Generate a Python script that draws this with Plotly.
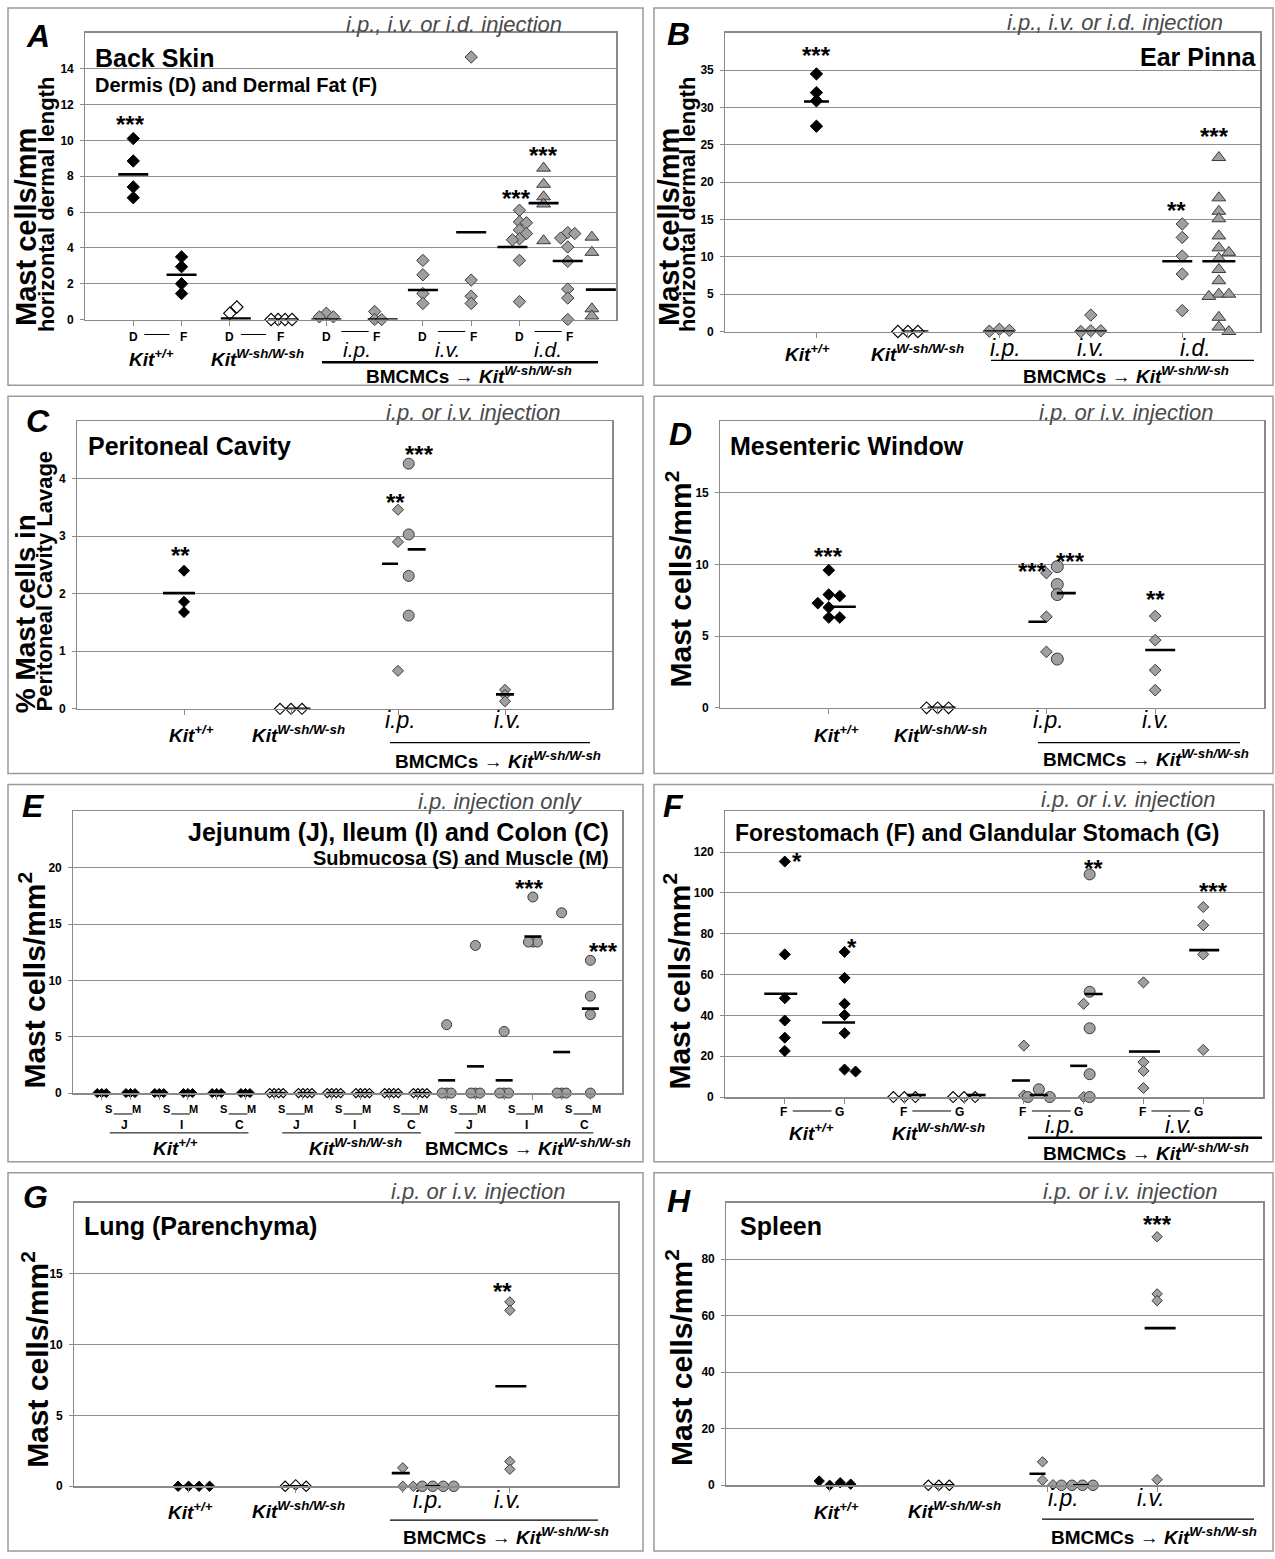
import plotly.graph_objects as go

W, H = 1275, 1559
FONT = "Liberation Sans, Arial, sans-serif"

# ======================= DATA =======================
# A: Back skin - dermis (D) / dermal fat (F); mast cells / mm horizontal dermal length
A_wt_D = [10.1, 8.85, 7.4, 6.8]
A_wt_F = [3.5, 2.95, 2.0, 1.45]
A_ko_D = [0.35, 0.7]
A_ko_F = [0.0, 0.0, 0.0, 0.0]
A_ip_D = [0.35, 0.15, 0.15]
A_ip_F = [0.45, 0.0, 0.0]
A_iv_D = [3.3, 2.5, 1.45, 0.9]
A_iv_F = [14.65, 2.2, 1.3, 0.9]
A_id_D = [6.1, 5.45, 5.4, 5.0, 4.8, 4.5, 4.45, 3.3, 1.0]
A_id_D_tri = [8.45, 7.55, 6.85, 6.45, 4.4]
A_id_F = [4.85, 4.8, 4.55, 4.05, 3.25, 1.7, 1.2, 0.0]
A_id_F_tri = [4.6, 3.75, 0.6, 0.2]
A_means = [8.1, 2.5, 0.05, 0.0, 0.0, 0.0, 1.65, 4.87, 4.05, 6.5, 3.27, 1.67]
A_yticks = [0, 2, 4, 6, 8, 10, 12, 14]

# B: Ear pinna
B_wt = [34.5, 32.0, 30.9, 27.5]
B_ko = [0.0, 0.0, 0.0]
B_ip = [0.3, 0.15, 0.05]
B_iv = [2.2, 0.1, 0.1, 0.0]
B_id = [14.4, 12.6, 10.1, 7.7, 2.8]
B_id_tri = [23.3, 17.9, 16.1, 15.1, 12.8, 11.2, 10.6, 9.8, 8.3, 6.8, 5.0, 5.0, 4.7, 1.9, 0.6, 0.0]
B_means = [30.8, 0.0, 0.0, 0.0, 9.4, 9.4]
B_yticks = [0, 5, 10, 15, 20, 25, 30, 35]

# C: Peritoneal cavity (% mast cells in lavage)
C_wt = [2.4, 1.86, 1.68]
C_ko = [0.0, 0.0, 0.0]
C_ip = [3.46, 2.9, 0.66]
C_ip_circ = [4.26, 3.03, 2.31, 1.62]
C_iv = [0.33, 0.24, 0.13]
C_means = [2.01, 0.0, 2.52, 2.77, 0.25]
C_yticks = [0, 1, 2, 3, 4]

# D: Mesenteric window
D_wt = [9.6, 7.9, 7.8, 7.3, 7.0, 6.3, 6.3]
D_ko = [0.0, 0.0, 0.0]
D_ip = [9.4, 6.35, 3.9]
D_ip_circ = [9.85, 8.6, 7.9, 3.4]
D_iv = [6.4, 4.72, 2.63, 1.23]
D_means = [7.05, 0.0, 6.0, 8.0, 4.03]
D_yticks = [0, 5, 10, 15]

# E: Jejunum / Ileum / Colon; columns J-S, J-M, I-S, I-M, C-S, C-M
E_wt = [[0.0, 0.0, 0.0], [0.0, 0.0, 0.0], [0.0, 0.0, 0.0],
        [0.0, 0.0, 0.0], [0.0, 0.0, 0.0], [0.0, 0.0, 0.0]]
E_ko = [[0.0, 0.0, 0.0, 0.0], [0.0, 0.0, 0.0, 0.0], [0.0, 0.0, 0.0, 0.0],
        [0.0, 0.0, 0.0, 0.0], [0.0, 0.0, 0.0, 0.0], [0.0, 0.0, 0.0, 0.0]]
E_bm = [[6.07, 0.0, 0.0, 0.0], [13.1, 0.0, 0.0, 0.0], [5.47, 0.0, 0.0, 0.0],
        [17.4, 13.4, 13.4, 13.4], [16.0, 0.0, 0.0, 0.0], [11.78, 8.6, 6.96, 0.0]]
E_ko_means = [0.0, 0.0, 0.0, 0.0, 0.0, 0.0]
E_bm_means = [1.13, 2.37, 1.13, 13.9, 3.64, 7.49]
E_yticks = [0, 5, 10, 15, 20]

# F: Forestomach (F) and glandular stomach (G)
F_wt_F = [115.4, 69.9, 48.4, 37.5, 29.1, 22.6]
F_wt_G = [71.1, 58.4, 45.7, 40.2, 31.3, 13.5, 12.5]
F_ko_F = [0.0, 0.0, 0.0]
F_ko_G = [0.0, 0.0, 0.0]
F_ip_F = [25.2, 0.8]
F_ip_F_circ = [3.8, 0.0, 0.0]
F_ip_G = [45.7, 0.0]
F_ip_G_circ = [109.1, 51.6, 33.7, 11.2, 0.0]
F_iv_F = [56.2, 17.1, 12.8, 4.4]
F_iv_G = [93.1, 84.2, 69.9, 23.1]
F_means = [50.6, 36.5, 1.0, 1.0, 8.1, 1.0, 15.3, 50.5, 22.3, 72.0]
F_yticks = [0, 20, 40, 60, 80, 100, 120]

# G: Lung (parenchyma)
G_wt = [0.0, 0.0, 0.0, 0.0]
G_ko = [0.1, 0.0, 0.0]
G_ip = [1.3, 0.0, 0.0]
G_ip_circ = [0.0, 0.0, 0.0, 0.0]
G_iv = [13.0, 12.4, 1.75, 1.2]
G_means = [0.0, 0.0, 0.93, 0.0, 7.05]
G_yticks = [0, 5, 10, 15]

# H: Spleen
H_wt = [0.0, 0.9, 1.5, 0.4]
H_ko = [0.0, 0.0, 0.0]
H_ip = [8.3, 1.8, 0.2]
H_ip_circ = [0.0, 0.0, 0.0, 0.0]
H_iv = [87.9, 67.7, 65.3, 2.0]
H_means = [0.0, 0.0, 4.1, 0.0, 55.6]
H_yticks = [0, 20, 40, 60, 80]

# ======================= LAYOUT / STYLE =======================
PAN = {
    'A': dict(i=1, box=(8, 8, 643, 387), plot=(85, 33, 616, 321), xr=(0, 11), yr=(0, 16), yt=A_yticks,
              xt=[1, 2, 3, 4, 5, 6, 7, 8, 9, 10], d=7, coll=7, sz=dict(wt=9.5, ko=9.5, bm=9.5, tri=12, circ=11)),
    'B': dict(i=2, box=(654, 8, 1273, 387), plot=(725, 33, 1260, 333), xr=(0, 5.85), yr=(0, 40), yt=B_yticks,
              xt=[1, 2, 3, 4, 5], d=10, coll=7, sz=dict(wt=9.5, ko=9.5, bm=9.5, tri=12, circ=11)),
    'C': dict(i=3, box=(8, 398, 643, 777), plot=(77, 423, 612, 712), xr=(0, 5), yr=(0, 5), yt=C_yticks,
              xt=[1, 2, 3, 4], d=11, coll=5, sz=dict(wt=8.5, ko=8.5, bm=8.5, tri=12, circ=11)),
    'D': dict(i=4, box=(654, 398, 1273, 777), plot=(720, 423, 1264, 711), xr=(0, 5), yr=(0, 20), yt=D_yticks,
              xt=[1, 2, 3, 4], d=11, coll=10, sz=dict(wt=9, ko=9, bm=9, tri=12, circ=12)),
    'E': dict(i=5, box=(8, 788, 643, 1167), plot=(73, 815, 622, 1098), xr=(0, 19.1), yr=(0, 25), yt=E_yticks,
              xt=list(range(1, 19)), d=4.5, coll=4.5, sz=dict(wt=7, ko=7, bm=7, tri=10, circ=10)),
    'F': dict(i=6, box=(654, 788, 1273, 1167), plot=(725, 815, 1263, 1102), xr=(0, 9), yr=(0, 140), yt=F_yticks,
              xt=[1, 2, 3, 4, 5, 6, 7, 8], d=11, coll=8, sz=dict(wt=8.5, ko=8.5, bm=8.5, tri=12, circ=11)),
    'G': dict(i=7, box=(8, 1178, 643, 1558), plot=(74, 1208, 618, 1493), xr=(-0.07, 5.01), yr=(0, 20), yt=G_yticks,
              xt=[1, 2, 3, 4], d=10.5, coll=7.5, sz=dict(wt=8, ko=8, bm=8, tri=12, circ=10.5)),
    'H': dict(i=8, box=(654, 1178, 1273, 1558), plot=(726, 1208, 1263, 1492), xr=(0.05, 4.97), yr=(0, 100), yt=H_yticks,
              xt=[1, 2, 3, 4], d=10.5, coll=6.5, sz=dict(wt=8, ko=8, bm=8, tri=12, circ=10.5)),
}

STY = {
    'wt': dict(symbol='diamond', fill='black', edge='black', lw=1),
    'ko': dict(symbol='diamond', fill='white', edge='black', lw=1.1),
    'bm': dict(symbol='diamond', fill='#a0a0a0', edge='#3a3a3a', lw=1),
    'tri': dict(symbol='triangle-up', fill='#a0a0a0', edge='#3a3a3a', lw=1),
    'circ': dict(symbol='circle', fill='#a0a0a0', edge='#3a3a3a', lw=1),
}


def S(v, x, sym, m, mw=30, mdx=0, star=None, sdx=0, sgap=20):
    return dict(v=v, x=x, sym=sym, m=m, mw=mw, mdx=mdx, star=star, sdx=sdx, sgap=sgap)


SER = {
    'A': [
        S(A_wt_D, 1, 'wt', A_means[0], star='***', sdx=-3),
        S(A_wt_F, 2, 'wt', A_means[1]),
        S(A_ko_D, 3, 'ko', A_means[2], mdx=6),
        S(A_ko_F, 4, 'ko', A_means[3], mdx=5),
        S(A_ip_D, 5, 'bm', A_means[4]),
        S(A_ip_F, 6, 'bm', A_means[5], mdx=8),
        S(A_iv_D, 7, 'bm', A_means[6]),
        S(A_iv_F, 8, 'bm', A_means[7]),
        S(A_id_D, 9, 'bm', A_means[8], mdx=-7, star='***', sdx=-3, sgap=18),
        S(A_id_D_tri, 9.5, 'tri', A_means[9], star='***', sgap=19),
        S(A_id_F, 10, 'bm', A_means[10]),
        S(A_id_F_tri, 10.5, 'tri', A_means[11], mdx=9),
    ],
    'B': [
        S(B_wt, 1, 'wt', B_means[0], mw=25, star='***', sgap=24),
        S(B_ko, 2, 'ko', B_means[1], mw=27, mdx=7),
        S(B_ip, 3, 'bm', B_means[2]),
        S(B_iv, 4, 'bm', B_means[3]),
        S(B_id, 5, 'bm', B_means[4], mdx=-5, star='**', sdx=-6, sgap=20),
        S(B_id_tri, 5.4, 'tri', B_means[5], mw=33, star='***', sdx=-4, sgap=27),
    ],
    'C': [
        S(C_wt, 1, 'wt', C_means[0], mw=32, mdx=-5, star='**', sdx=-4, sgap=21),
        S(C_ko, 2, 'ko', C_means[1], mw=25, mdx=7),
        S(C_ip, 3, 'bm', C_means[2], mw=16, mdx=-8, star='**', sdx=-3, sgap=13),
        S(C_ip_circ, 3.1, 'circ', C_means[3], mw=18, mdx=8, star='***', sdx=11, sgap=15),
        S(C_iv, 4, 'bm', C_means[4], mw=18),
    ],
    'D': [
        S(D_wt, 1, 'wt', D_means[0], mw=24, mdx=15, star='***', sgap=20),
        S(D_ko, 2, 'ko', D_means[1], mw=28, mdx=4),
        S(D_ip, 3, 'bm', D_means[2], mw=18, mdx=-9, star='***', sdx=-14, sgap=8),
        S(D_ip_circ, 3.1, 'circ', D_means[3], mw=19, mdx=9, star='***', sdx=13, sgap=11),
        S(D_iv, 4, 'bm', D_means[4], mw=30, mdx=5, star='**', sgap=23),
    ],
    'E': ([S(E_wt[j], 1 + j, 'wt', None) for j in range(6)] +
          [S(E_ko[j], 7 + j, 'ko', E_ko_means[j], mw=17, mdx=3) for j in range(6)] +
          [S(E_bm[j], 13 + j, 'circ', E_bm_means[j], mw=17,
             star=('***' if j in (3, 5) else None), sdx=(13 if j == 5 else -3), sgap=15) for j in range(6)]),
    'F': [
        S(F_wt_F, 1, 'wt', F_means[0], mw=33, mdx=-4, star='*', sdx=12, sgap=6),
        S(F_wt_G, 2, 'wt', F_means[1], mw=33, mdx=-6, star='*', sdx=7, sgap=10),
        S(F_ko_F, 3, 'ko', F_means[2], mw=19, mdx=12),
        S(F_ko_G, 4, 'ko', F_means[3], mw=19, mdx=12),
        S(F_ip_F, 5, 'bm', F_means[4], mw=18, mdx=-3),
        S(F_ip_F_circ, 5.25, 'circ', F_means[5], mw=18),
        S(F_ip_G, 6, 'bm', F_means[6], mw=17, mdx=-5),
        S(F_ip_G_circ, 6.1, 'circ', F_means[7], mw=18, mdx=4, star='**', sdx=4, sgap=12),
        S(F_iv_F, 7, 'bm', F_means[8], mw=31, mdx=1),
        S(F_iv_G, 8, 'bm', F_means[9], mw=30, mdx=1, star='***', sdx=10, sgap=22),
    ],
    'G': [
        S(G_wt, 1, 'wt', G_means[0], mw=25),
        S(G_ko, 2, 'ko', G_means[1], mw=25),
        S(G_ip, 3, 'bm', G_means[2], mw=18, mdx=-2),
        S(G_ip_circ, 3.28, 'circ', G_means[3], mw=15),
        S(G_iv, 4, 'bm', G_means[4], mw=31, mdx=1, star='**', sdx=-7, sgap=16),
    ],
    'H': [
        S(H_wt, 1, 'wt', H_means[0], mw=26, mdx=11),
        S(H_ko, 2, 'ko', H_means[1], mw=22, mdx=4),
        S(H_ip, 2.95, 'bm', H_means[2], mw=16, mdx=-5),
        S(H_ip_circ, 3.22, 'circ', H_means[3], mw=16, mdx=9),
        S(H_iv, 4, 'bm', H_means[4], mw=31, mdx=3, star='***', sgap=18),
    ],
}


def swarm(vals, ppy, d, coll):
    """Deterministic beeswarm: horizontal pixel offsets avoiding marker overlap."""
    cands = [0.0]
    for j in range(1, 12):
        cands += [j * d, -j * d]
    placed, offs = [], []
    for v in vals:
        yp = v * ppy
        chosen = cands[-1]
        for c in cands:
            if all((c - px) ** 2 + (yp - py) ** 2 >= coll ** 2 - 1e-6 for px, py in placed):
                chosen = c
                break
        placed.append((chosen, yp))
        offs.append(chosen)
    return offs


def geo(k):
    p = PAN[k]
    l, t, r, b = p['plot']
    ppx = (r - l) / (p['xr'][1] - p['xr'][0])
    ppy = (b - t) / (p['yr'][1] - p['yr'][0])
    return l, t, r, b, ppx, ppy


def cx(k, c):
    l, t, r, b, ppx, ppy = geo(k)
    return l + (c - PAN[k]['xr'][0]) * ppx


def vy(k, v):
    l, t, r, b, ppx, ppy = geo(k)
    return b - (v - PAN[k]['yr'][0]) * ppy


ann, shp = [], []


def T(xp, yp, text, size, color='black', xanchor='center', yanchor='middle', angle=0):
    ann.append(dict(x=xp / W, y=1 - yp / H, xref='paper', yref='paper', text=text, showarrow=False,
                    xanchor=xanchor, yanchor=yanchor, textangle=angle,
                    font=dict(family=FONT, size=size, color=color)))


def L(x0, y0, x1, y1, w=1.2, color='black'):
    shp.append(dict(type='line', xref='paper', yref='paper', x0=x0 / W, y0=1 - y0 / H,
                    x1=x1 / W, y1=1 - y1 / H, line=dict(color=color, width=w)))


def R(x0, y0, x1, y1, color='#9a9a9a', w=1.5):
    shp.append(dict(type='rect', xref='paper', yref='paper', x0=x0 / W, y0=1 - y0 / H,
                    x1=x1 / W, y1=1 - y1 / H, line=dict(color=color, width=w)))


fig = go.Figure()
layout = dict(width=W, height=H, margin=dict(l=0, r=0, t=0, b=0), paper_bgcolor='white',
              plot_bgcolor='white', showlegend=False, font=dict(family=FONT))

AXC = '#8a8a8a'
for k, p in PAN.items():
    i = p['i']
    xa = 'x' if i == 1 else f'x{i}'
    ya = 'y' if i == 1 else f'y{i}'
    l, t, r, b, ppx, ppy = geo(k)
    layout['xaxis' if i == 1 else f'xaxis{i}'] = dict(
        domain=[l / W, r / W], range=list(p['xr']), anchor=ya, showgrid=False, zeroline=False,
        showline=True, mirror=True, linecolor=AXC, linewidth=1.5, ticks='outside', ticklen=5,
        tickcolor=AXC, tickvals=p['xt'], showticklabels=False, fixedrange=True)
    layout['yaxis' if i == 1 else f'yaxis{i}'] = dict(
        domain=[1 - b / H, 1 - t / H], range=list(p['yr']), anchor=xa, showgrid=True, gridcolor='#8f8f8f',
        gridwidth=1, zeroline=False, showline=True, mirror=True, linecolor=AXC, linewidth=1.5,
        ticks='outside', ticklen=4, tickcolor=AXC, tickvals=p['yt'],
        ticktext=[f'{v}\u00a0' for v in p['yt']],
        tickfont=dict(family=FONT, size=12, color='black', weight='bold'), fixedrange=True)

    # data points
    for s in SER[k]:
        offs = swarm(s['v'], ppy, p['d'], p['coll'])
        st = STY[s['sym']]
        fig.add_trace(go.Scatter(
            x=[s['x'] + o / ppx for o in offs], y=s['v'], mode='markers', xaxis=xa, yaxis=ya,
            cliponaxis=False, hoverinfo='skip',
            marker=dict(symbol=st['symbol'], size=p['sz'][s['sym']], color=st['fill'],
                        line=dict(color=st['edge'], width=st['lw']))))
    # mean bars (short horizontal segments)
    mx, my = [], []
    for s in SER[k]:
        if s['m'] is None:
            continue
        c = s['x'] + s['mdx'] / ppx
        half = s['mw'] / 2 / ppx
        mx += [c - half, c + half, None]
        my += [s['m'], s['m'], None]
    fig.add_trace(go.Scatter(x=mx, y=my, mode='lines', xaxis=xa, yaxis=ya, cliponaxis=False,
                             hoverinfo='skip', connectgaps=False,
                             line=dict(color='black', width=2.6)))
    # significance stars
    for s in SER[k]:
        if s['star']:
            T(cx(k, s['x']) + s['sdx'], vy(k, max(s['v'])) - s['sgap'] + 6, '<b>' + s['star'] + '</b>', 24)
    # panel frame
    R(*p['box'])

KWT = "<b><i>Kit<sup>+/+</sup></i></b>"
KKO = "<b><i>Kit<sup>W-sh/W-sh</sup></i></b>"
BM = "<b>BMCMCs → <i>Kit<sup>W-sh/W-sh</sup></i></b>"
GRAY = '#4a4a4a'
YT = 'Mast cells/mm<sup>2</sup>'

# ---------------- Panel A ----------------
T(38, 36, '<b><i>A</i></b>', 32)
T(454, 25, '<i>i.p., i.v. or i.d. injection</i>', 22, GRAY)
T(93, 58, '<b>Back Skin</b>', 25, xanchor='left')
T(93, 85, '<b>Dermis (D) and Dermal Fat (F)</b>', 20, xanchor='left')
T(26, 228, '<b>Mast cells/mm</b>', 29, angle=-90)
T(46, 206, '<b>horizontal dermal length</b>', 22, angle=-90)
for c in range(1, 11, 2):
    T(cx('A', c), 339, '<b>D</b>', 12)
    T(cx('A', c + 1) + 2, 339, '<b>F</b>', 12)
    if c < 5:
        L(cx('A', c) + 11, 336, cx('A', c + 1) - 12, 336, 1)
    else:
        L(cx('A', c) + 15, 333, cx('A', c + 1) - 6, 333, 1)
T(357, 351, '<i>i.p.</i>', 21)
T(447, 351, '<i>i.v.</i>', 21)
T(548, 351, '<i>i.d.</i>', 21)
T(151, 360, KWT, 19)
T(257, 360, KKO, 19)
L(322, 364, 598, 364, 2.5)
T(469, 377, BM, 19)

# ---------------- Panel B ----------------
T(678, 34, '<b><i>B</i></b>', 32)
T(1115, 23, '<i>i.p., i.v. or i.d. injection</i>', 22, GRAY)
T(1258, 57, '<b>Ear Pinna</b>', 25, xanchor='right')
T(669, 228, '<b>Mast cells/mm</b>', 29, angle=-90)
T(687, 206, '<b>horizontal dermal length</b>', 22, angle=-90)
T(808, 355, KWT, 19)
T(917, 355, KKO, 19)
T(1005, 350, '<i>i.p.</i>', 23)
T(1091, 350, '<i>i.v.</i>', 23)
T(1195, 350, '<i>i.d.</i>', 23)
L(991, 362, 1254, 362, 1.2)
T(1126, 377, BM, 19)

# ---------------- Panel C ----------------
T(38, 423, '<b><i>C</i></b>', 32)
T(473, 414, '<i>i.p. or i.v. injection</i>', 22, GRAY)
T(86, 448, '<b>Peritoneal Cavity</b>', 25, xanchor='left')
T(25, 617, '<b>% Mast cells in</b>', 28, angle=-90)
T(44, 584, '<b>Peritoneal Cavity Lavage</b>', 22, angle=-90)
T(192, 737, KWT, 19)
T(298, 737, KKO, 19)
T(400, 723, '<i>i.p.</i>', 23)
T(508, 723, '<i>i.v.</i>', 23)
L(390, 746, 590, 746, 1.2)
T(498, 763, BM, 19)

# ---------------- Panel D ----------------
T(680, 436, '<b><i>D</i></b>', 32)
T(1126, 414, '<i>i.p. or i.v. injection</i>', 22, GRAY)
T(728, 448, '<b>Mesenteric Window</b>', 25, xanchor='left')
T(679, 582, '<b>' + YT + '</b>', 30, angle=-90)
T(836, 737, KWT, 19)
T(940, 737, KKO, 19)
T(1048, 723, '<i>i.p.</i>', 23)
T(1156, 723, '<i>i.v.</i>', 23)
L(1038, 746, 1240, 746, 1.2)
T(1146, 761, BM, 19)

# ---------------- Panel E ----------------
T(33, 810, '<b><i>E</i></b>', 32)
T(500, 805, '<i>i.p. injection only</i>', 22, GRAY)
T(611, 836, '<b>Jejunum (J), Ileum (I) and Colon (C)</b>', 25, xanchor='right')
T(611, 862, '<b>Submucosa (S) and Muscle (M)</b>', 20, xanchor='right')
T(32, 985, '<b>' + YT + '</b>', 30, angle=-90)
_, _, _, _, eppx, _ = geo('E')
for g in range(3):
    for o, organ in enumerate(['J', 'I', 'C']):
        cs = 1 + 6 * g + 2 * o
        T(cx('E', cs) + 7, 1114, '<b>S</b>', 11)
        T(cx('E', cs + 1) + 6, 1114, '<b>M</b>', 11)
        L(cx('E', cs) + 12, 1119, cx('E', cs + 1) + 2, 1119, 1)
        T(cx('E', cs) + 0.78 * eppx, 1130, '<b>' + organ + '</b>', 12)
    L(cx('E', 1 + 6 * g) + 8, 1138, cx('E', 6 + 6 * g) + 3, 1138, 1)
T(175, 1152, KWT, 19)
T(355, 1152, KKO, 19)
T(528, 1152, BM, 19)

# ---------------- Panel F ----------------
T(673, 810, '<b><i>F</i></b>', 32)
T(1128, 803, '<i>i.p. or i.v. injection</i>', 22, GRAY)
T(733, 837, '<b>Forestomach (F) and Glandular Stomach (G)</b>', 23, xanchor='left')
T(677, 986, '<b>' + YT + '</b>', 30, angle=-90)
for c in range(1, 9, 2):
    T(cx('F', c) - 1, 1117, '<b>F</b>', 12)
    T(cx('F', c + 1) - 5, 1117, '<b>G</b>', 12)
    L(cx('F', c) + 8, 1116, cx('F', c + 1) - 13, 1116, 1)
T(1060, 1130, '<i>i.p.</i>', 23)
T(1179, 1130, '<i>i.v.</i>', 23)
T(811, 1137, KWT, 19)
T(938, 1137, KKO, 19)
L(1028, 1143, 1262, 1143, 2.5)
T(1146, 1157, BM, 19)

# ---------------- Panel G ----------------
T(35, 1202, '<b><i>G</i></b>', 32)
T(478, 1197, '<i>i.p. or i.v. injection</i>', 22, GRAY)
T(82, 1232, '<b>Lung (Parenchyma)</b>', 25, xanchor='left')
T(35, 1366, '<b>' + YT + '</b>', 30, angle=-90)
T(190, 1518, KWT, 19)
T(298, 1517, KKO, 19)
T(428, 1507, '<i>i.p.</i>', 23)
T(508, 1507, '<i>i.v.</i>', 23)
L(390, 1527, 598, 1527, 1.2)
T(506, 1543, BM, 19)

# ---------------- Panel H ----------------
T(679, 1206, '<b><i>H</i></b>', 32)
T(1130, 1197, '<i>i.p. or i.v. injection</i>', 22, GRAY)
T(738, 1232, '<b>Spleen</b>', 25, xanchor='left')
T(679, 1364, '<b>' + YT + '</b>', 30, angle=-90)
T(836, 1518, KWT, 19)
T(954, 1517, KKO, 19)
T(1063, 1505, '<i>i.p.</i>', 23)
T(1151, 1505, '<i>i.v.</i>', 23)
L(1042, 1526, 1254, 1526, 1.2)
T(1154, 1543, BM, 19)

layout['annotations'] = ann
layout['shapes'] = shp
fig.update_layout(**layout)
fig.update_traces(showlegend=False)
fig.write_html("out.html", config={'displayModeBar': False, 'staticPlot': True},
               post_script="document.body.style.margin='0';document.body.style.padding='0';")
